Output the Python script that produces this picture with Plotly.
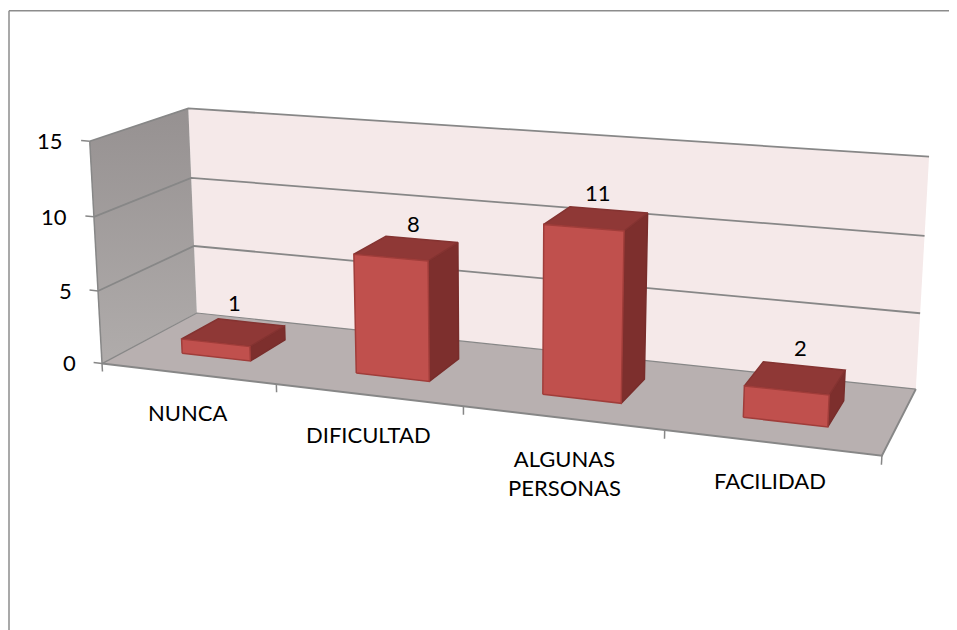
import numpy as np
import plotly.graph_objects as go

categories = ["NUNCA", "DIFICULTAD", "ALGUNAS<br>PERSONAS", "FACILIDAD"]
values = [1, 8, 11, 2]
ticks = [0, 5, 10, 15]

W, H = 957, 630
PAGE_MARGIN = 8
BAR_HALF = 0.2
BAR_DEPTH = (0.3, 0.7)
ZMAX = max(ticks)
NCAT = len(categories)

# Axis calibration: where the chart box corners and tick positions sit on the page
AXIS_CALIBRATION = [
    ((0,0,15),(90,141)),((0,1,15),(188,109)),((0,0,0),(102,363)),((0,1,0),(197,313)),
    ((4,1,15),(929,157)),((4,1,0),(916,388)),((4,0,0),(882,454)),((0,1,10),(191,178)),
    ((0,1,5),(194,246)),((1,0,0),(277,385)),((2,0,0),(463,408)),((3,0,0),(664,432)),
    ((4,1,10),(925,236)),((4,1,5),(920,313)),((0,0,5),(98,290)),((0,0,10),(94,216)),
]
# small per-label placement nudges (x, y px, + = right / up)
VALUE_NUDGE = [(1, 2), (7, -3), (2, -1), (5, 3)]
CATEGORY_NUDGE = [(2, 2), (2, 1), (4, 0), (1, 3)]

def solve_camera(pairs):
    A, b = [], []
    for (x, y, z), (u, v) in pairs:
        A.append([x, y, z, 1, 0, 0, 0, 0, -u*x, -u*y, -u*z]); b.append(u)
        A.append([0, 0, 0, 0, x, y, z, 1, -v*x, -v*y, -v*z]); b.append(v)
    sol = np.linalg.lstsq(np.array(A, float), np.array(b, float), rcond=None)[0]
    return np.append(sol, 1.0).reshape(3, 4)

CAM = solve_camera(AXIS_CALIBRATION)

def proj(x, y, z):
    u, v, w = CAM @ np.array([x, y, z, 1.0])
    return u/w, v/w

fig = go.Figure()

def poly(pts, fill=None, line=None, width=0, gradient=None, name=""):
    xy = [proj(*p) for p in pts]
    xs = [q[0] for q in xy]; ys = [q[1] for q in xy]
    if fill or gradient:
        xs.append(xs[0]); ys.append(ys[0])
    kw = dict(x=xs, y=ys, mode="lines", hoverinfo="skip", showlegend=False, name=name,
              line=dict(color=line or "rgba(0,0,0,0)", width=width))
    if fill or gradient:
        kw["fill"] = "toself"
        if gradient:
            kw["fillgradient"] = gradient
        else:
            kw["fillcolor"] = fill
    fig.add_trace(go.Scatter(**kw))

GRID = "#878787"
# walls and floor
poly([(0,1,0),(NCAT,1,0),(NCAT,1,ZMAX),(0,1,ZMAX)], fill="#f5e9e9", name="back wall")
poly([(0,0,0),(0,1,0),(0,1,ZMAX),(0,0,ZMAX)],
     gradient=dict(type="vertical", colorscale=[[0,"#b0acab"],[1,"#969191"]]), name="side wall")
poly([(0,0,0),(NCAT,0,0),(NCAT,1,0),(0,1,0)], fill="#b8b0b0", name="floor")

# gridlines
for t in ticks:
    poly([(0,0,t),(0,1,t),(NCAT,1,t)], line=GRID, width=1.8 if t else 1.2, name=f"grid {t}")
poly([(0,0,0),(0,0,ZMAX)], line=GRID, width=1.5)
poly([(0,0,0),(NCAT,0,0),(NCAT,1,0)], line=GRID, width=2)

# ticks
for t in ticks:
    poly([(-0.05,0,t),(0,0,t)], line=GRID, width=1.5)
for i in range(NCAT+1):
    poly([(i,0,0),(i,0,-0.55)], line=GRID, width=1.5)

# bars
FRONT, TOP, SIDE = "#c0504d", "#8f3836", "#7d2f2d"
for i, v in enumerate(values):
    c = i + 0.5
    x0, x1 = c-BAR_HALF, c+BAR_HALF
    y0, y1 = BAR_DEPTH
    poly([(x1,y0,0),(x1,y1,0),(x1,y1,v),(x1,y0,v)], fill=SIDE, line="#782d2b", width=1.5, name=f"side {i}")
    poly([(x0,y0,v),(x1,y0,v),(x1,y1,v),(x0,y1,v)], fill=TOP, line="#843331", width=1.5, name=f"top {i}")
    poly([(x0,y0,0),(x1,y0,0),(x1,y0,v),(x0,y0,v)], fill=FRONT, line="#a03d3a", width=1.5, name=f"front {i}")

ann = []
FONT = "Lato"
for t in ticks:
    X, Y = proj(-0.05, 0, t)
    ann.append(dict(x=X, y=Y, text=str(t), showarrow=False, xanchor="right", yanchor="middle",
                    xshift=-16, font=dict(family=FONT, size=22, color="#000")))
for i, lab in enumerate(categories):
    X, Y = proj(i+0.5, 0, 0)
    dx, dy = CATEGORY_NUDGE[i]
    ann.append(dict(x=X-2, y=Y, text=lab, showarrow=False, xanchor="center", yanchor="top",
                    xshift=dx, yshift=-25+dy, font=dict(family=FONT, size=22, color="#000")))
for i, v in enumerate(values):
    X, Y = proj(i+0.5, 0.5, v)
    dx, dy = VALUE_NUDGE[i]
    ann.append(dict(x=X, y=Y, text=str(v), showarrow=False, xanchor="center", yanchor="bottom",
                    xshift=dx, yshift=12+dy, font=dict(family=FONT, size=22, color="#000")))

frame = dict(color="#8c8c8c", width=1.5)
shapes = [
    dict(type="line", xref="x", yref="y", x0=9, x1=W, y0=10.7, y1=10.7, line=frame),
    dict(type="line", xref="x", yref="y", x0=9, x1=9, y0=10.7, y1=H, line=frame),
]
fig.update_layout(width=W-PAGE_MARGIN, height=H-PAGE_MARGIN, margin=dict(l=0, r=0, t=0, b=0), showlegend=False,
    paper_bgcolor="#ffffff", plot_bgcolor="#ffffff", annotations=ann, shapes=shapes,
    xaxis=dict(range=[PAGE_MARGIN, W], visible=False, fixedrange=True),
    yaxis=dict(range=[H, PAGE_MARGIN], visible=False, fixedrange=True))
fig.write_html("out.html", config=dict(displayModeBar=False))
